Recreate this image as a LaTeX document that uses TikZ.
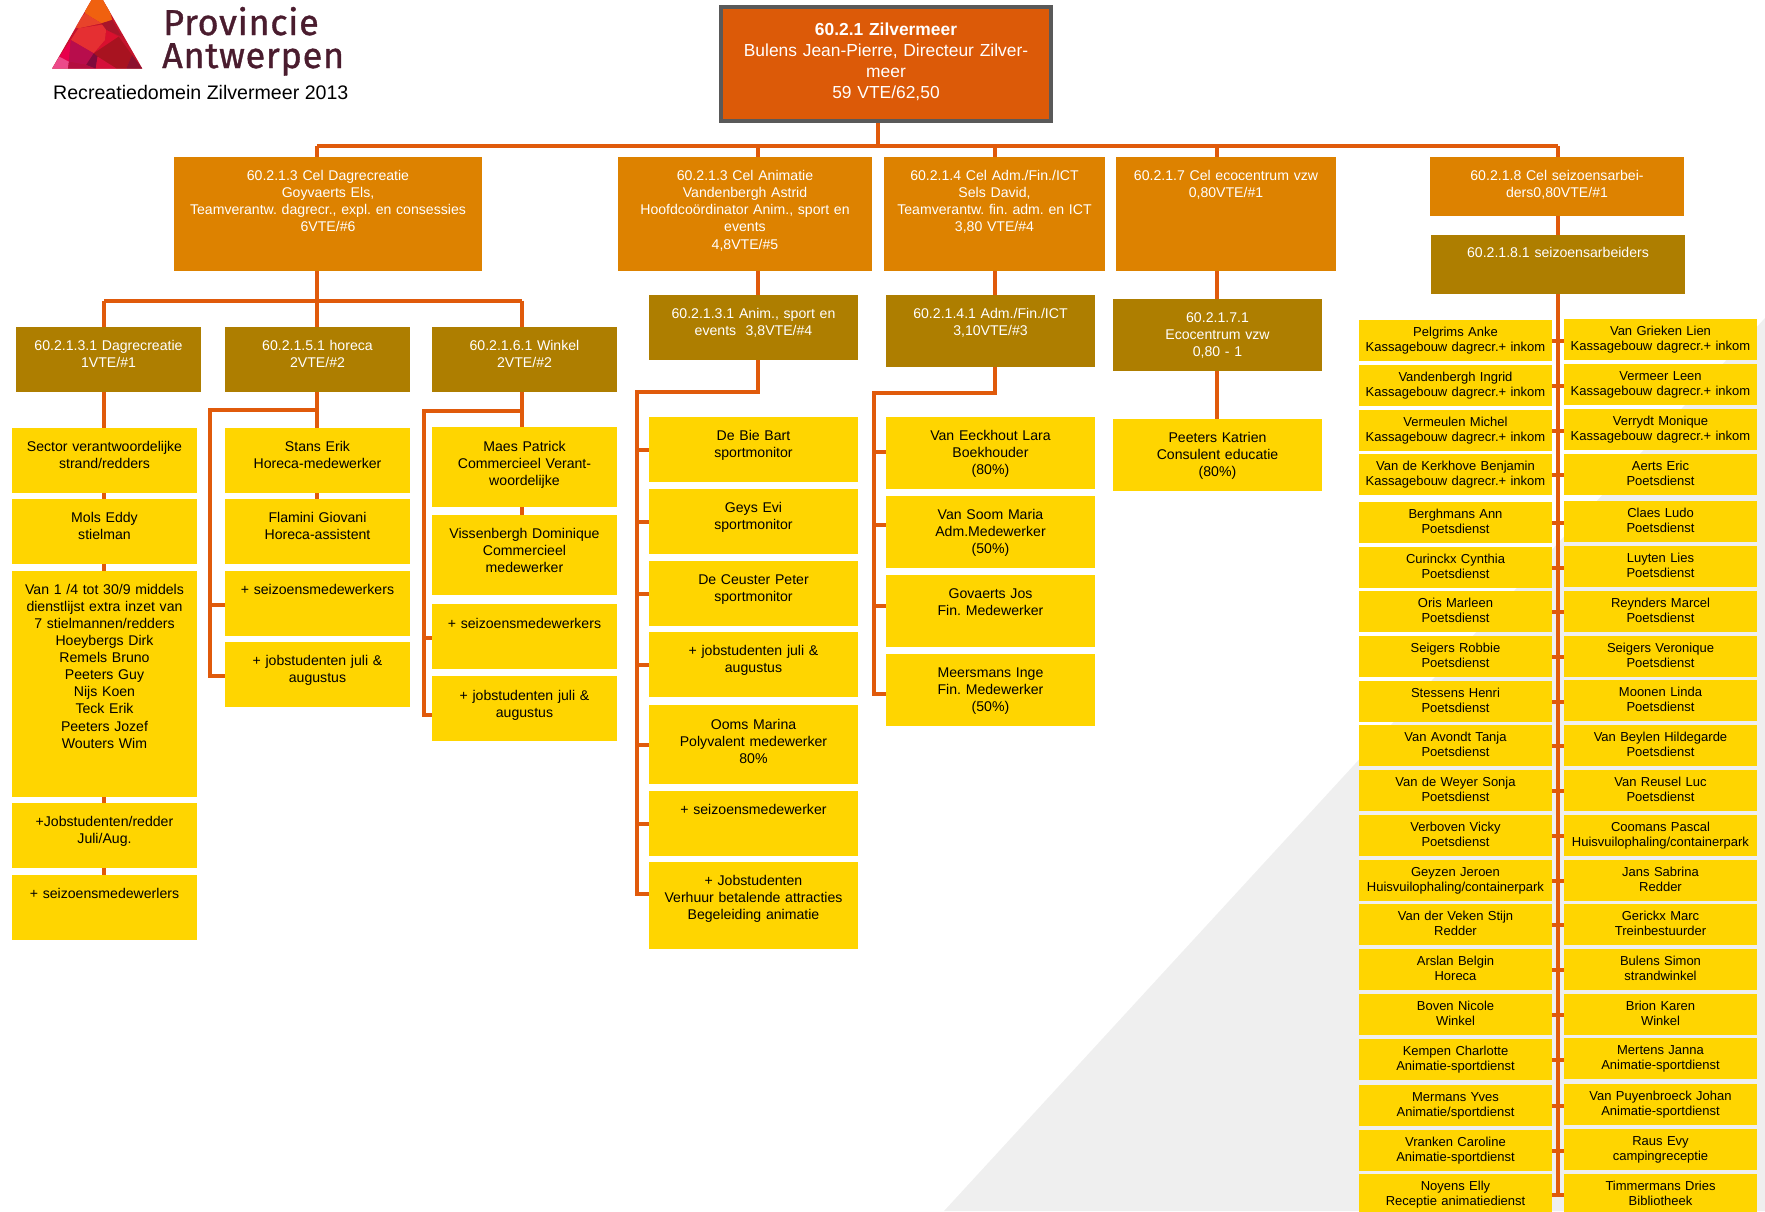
\documentclass[tikz,border=0pt]{standalone}
\usepackage{fontspec}
\setmainfont{Liberation Sans}
\newfontfamily\logofont{Fira Sans}[FakeBold=1,LetterSpace=2]
\usepackage{tikz}
\usetikzlibrary{backgrounds,positioning}
\frenchspacing

\definecolor{rootfill}{HTML}{DC5A08}
\definecolor{rootline}{HTML}{595959}
\definecolor{celfill}{HTML}{DD8200}
\definecolor{subfill}{HTML}{AE7E00}
\definecolor{staffill}{HTML}{FFD500}
\definecolor{linkcol}{HTML}{E05A0B}
\definecolor{logotext}{HTML}{4A1C2E}
\definecolor{wedge}{HTML}{EFEFEF}

\tikzset{Frame/.style n args={3}{text width=#1pt, text height=#3pt, text depth={(#2-#3)*1pt}}}

\begin{document}
\begin{tikzpicture}[x=1pt,y=-1pt]
	\tikzstyle{Box}		= [anchor=north, inner sep=0pt, align=center]
	\tikzstyle{Root}	= [Box, draw=rootline, line width=4.3pt, fill=rootfill, text=white, font=\fontsize{17.4}{21}\selectfont]
	\tikzstyle{Cel}		= [Box, fill=celfill, text=white, font=\fontsize{14.1}{17.2}\selectfont]
	\tikzstyle{Sub}		= [Box, fill=subfill, text=white, font=\fontsize{14.1}{17.2}\selectfont]
	\tikzstyle{Staff}	= [Box, fill=staffill, font=\fontsize{14.1}{17.1}\selectfont, Frame={185}{65}{23}]
	\tikzstyle{Anim}	= [Staff, Frame={209}{65}{23}]
	\tikzstyle{Adm}		= [Staff, Frame={209}{72}{23}]
	\tikzstyle{Season}	= [Box, fill=staffill, font=\fontsize{13}{15.7}\selectfont, Frame={193}{41}{16}]
	\tikzstyle{Link}	= [line width=4pt, linkcol]

	\useasboundingbox (0,0) rectangle (1765,1211);

	\begin{scope}[x=0.3827pt,y=-0.3333pt]
		\clip (136,206) -- (254,-30) -- (372,206) -- cycle;
		\fill [fill={rgb,255:red,196;green,20;blue,44}] (100,-40) rectangle (400,220);
		\fill [fill={rgb,255:red,240;green,97;blue,15}] (225,-5) -- (280,-5) -- (293,60) -- (265,70) -- (222,40) -- cycle;
		\fill [fill={rgb,255:red,232;green,67;blue,42}] (222,40) -- (265,70) -- (205,85) -- (190,80) -- cycle;
		\fill [fill={rgb,255:red,229;green,47;blue,50}] (205,85) -- (278,72) -- (275,120) -- (245,160) -- (185,120) -- cycle;
		\fill [fill={rgb,255:red,168;green,22;blue,42}] (265,70) -- (293,60) -- (318,110) -- (278,90) -- cycle;
		\fill [fill={rgb,255:red,217;green,16;blue,46}] (278,90) -- (310,110) -- (245,160) -- (275,120) -- cycle;
		\fill [fill={rgb,255:red,168;green,19;blue,32}] (310,110) -- (345,165) -- (330,206) -- (305,206) -- (250,170) -- (245,160) -- cycle;
		\fill [fill={rgb,255:red,140;green,18;blue,48}] (345,165) -- (372,206) -- (330,206) -- cycle;
		\fill [fill={rgb,255:red,232;green,0;blue,76}] (185,120) -- (180,185) -- (155,170) -- cycle;
		\fill [fill={rgb,255:red,184;green,13;blue,76}] (185,120) -- (245,160) -- (225,195) -- (180,185) -- cycle;
		\fill [fill={rgb,255:red,126;green,10;blue,60}] (245,160) -- (255,170) -- (250,206) -- (225,195) -- cycle;
		\fill [fill={rgb,255:red,213;green,16;blue,58}] (255,170) -- (305,206) -- (250,206) -- cycle;
		\fill [fill={rgb,255:red,236;green,74;blue,138}] (136,206) -- (155,170) -- (180,185) -- (178,206) -- cycle;
		\fill [fill={rgb,255:red,179;green,13;blue,64}] (180,185) -- (225,195) -- (250,206) -- (178,206) -- cycle;
	\end{scope}

	\node (prov) at (163,35) [anchor=base west, inner sep=0pt, text=logotext, font=\logofont\fontsize{36}{36}\selectfont] {Provincie};
	\node (antw) at (162,68) [anchor=base west, inner sep=0pt, text=logotext, font=\logofont\fontsize{36}{36}\selectfont] {Antwerpen};
	\node (titel) at (53,99) [anchor=base west, inner sep=0pt, font=\fontsize{19.6}{22}\selectfont] {Recreatiedomein Zilvermeer 2013};

	\node (root) at (886,5) [Root][Frame={330}{114}{28}] {\textbf{60.2.1 Zilvermeer}\\Bulens Jean-Pierre, Directeur Zilver-\\meer\\59 VTE/62,50};

	\node (cel1) at (328,157) [Cel][Frame={308}{114}{23}] {60.2.1.3 Cel Dagrecreatie\\Goyvaerts Els,\\Teamverantw. dagrecr., expl. en consessies\\6VTE/\#6};
	\node (cel2) at (745,157) [Cel][Frame={254}{114}{23}] {60.2.1.3 Cel Animatie\\Vandenbergh Astrid\\Hoofdcoördinator Anim., sport en\\events\\4,8VTE/\#5};
	\node (cel3) at (994.5,157) [Cel][Frame={221}{114}{23}] {60.2.1.4 Cel Adm./Fin./ICT\\Sels David,\\Teamverantw. fin. adm. en ICT\\3,80 VTE/\#4};
	\node (cel4) at (1226,157) [Cel][Frame={220}{114}{23}] {60.2.1.7 Cel ecocentrum vzw\\0,80VTE/\#1};
	\node (cel5) at (1557,157) [Cel][Frame={254}{59}{23}] {60.2.1.8 Cel seizoensarbei-\\ders0,80VTE/\#1};

	\node (dag) at (108.5,327) [Sub][Frame={185}{65}{23}] {60.2.1.3.1 Dagrecreatie\\1VTE/\#1};
	\node (hor) at (317.5,327) [Sub][Frame={185}{65}{23}] {60.2.1.5.1 horeca\\2VTE/\#2};
	\node (win) at (524.5,327) [Sub][Frame={185}{65}{23}] {60.2.1.6.1 Winkel\\2VTE/\#2};
	\node (ani) at (753.5,295) [Sub][Frame={209}{65}{23}] {60.2.1.3.1 Anim., sport en\\events\ \ 3,8VTE/\#4};
	\node (adm) at (990.5,295) [Sub][Frame={209}{72}{23}] {60.2.1.4.1 Adm./Fin./ICT\\3,10VTE/\#3};
	\node (eco) at (1217.5,299) [Sub][Frame={209}{72}{23}] {60.2.1.7.1\\Ecocentrum vzw\\0,80 - 1};
	\node (sei) at (1558,235) [Sub][Frame={254}{59}{22}] {60.2.1.8.1 seizoensarbeiders};

	\node (dag1) at (104.5,428) [Staff] {Sector verantwoordelijke\\strand/redders};
	\node (dag2) at (104.5,499) [Staff] {Mols Eddy\\stielman};
	\node (dag3) at (104.5,571) [Staff][Frame={185}{226}{23}] {Van 1 /4 tot 30/9 middels\\dienstlijst extra inzet van\\7 stielmannen/redders\\Hoeybergs Dirk\\Remels Bruno\\Peeters Guy\\Nijs Koen\\Teck Erik\\Peeters Jozef\\Wouters Wim};
	\node (dag4) at (104.5,803) [Staff] {+Jobstudenten/redder\\Juli/Aug.};
	\node (dag5) at (104.5,875) [Staff] {+ seizoensmedewerlers};

	\node (hor1) at (317.5,428) [Staff] {Stans Erik\\Horeca-medewerker};
	\node (hor2) at (317.5,499) [Staff] {Flamini Giovani\\Horeca-assistent};
	\node (hor3) at (317.5,571) [Staff] {+ seizoensmedewerkers};
	\node (hor4) at (317.5,642) [Staff] {+ jobstudenten juli \&\\augustus};

	\node (win1) at (524.5,427) [Staff][Frame={185}{80}{24}] {Maes Patrick\\Commercieel Verant-\\woordelijke};
	\node (win2) at (524.5,515) [Staff][Frame={185}{80}{23}] {Vissenbergh Dominique\\Commercieel\\medewerker};
	\node (win3) at (524.5,604) [Staff][Frame={185}{65}{24}] {+ seizoensmedewerkers};
	\node (win4) at (524.5,676) [Staff][Frame={185}{65}{24}] {+ jobstudenten juli \&\\augustus};

	\node (ani1) at (753.5,417) [Anim] {De Bie Bart\\sportmonitor};
	\node (ani2) at (753.5,489) [Anim] {Geys Evi\\sportmonitor};
	\node (ani3) at (753.5,561) [Anim] {De Ceuster Peter\\sportmonitor};
	\node (ani4) at (753.5,632) [Anim] {+ jobstudenten juli \&\\augustus};
	\node (ani5) at (753.5,705) [Anim][Frame={209}{79}{24}] {Ooms Marina\\Polyvalent medewerker\\80\%};
	\node (ani6) at (753.5,791) [Anim] {+ seizoensmedewerker};
	\node (ani7) at (753.5,862) [Anim][Frame={209}{87}{23}] {+ Jobstudenten\\Verhuur betalende attracties\\Begeleiding animatie};

	\node (adm1) at (990.5,417) [Adm] {Van Eeckhout Lara\\Boekhouder\\(80\%)};
	\node (adm2) at (990.5,496) [Adm] {Van Soom Maria\\Adm.Medewerker\\(50\%)};
	\node (adm3) at (990.5,575) [Adm] {Govaerts Jos\\Fin. Medewerker};
	\node (adm4) at (990.5,654) [Adm] {Meersmans Inge\\Fin. Medewerker\\(50\%)};

	\node (eco1) at (1217.5,419) [Adm] {Peeters Katrien\\Consulent educatie\\(80\%)};

	\node (l1) at (1455.5,320) [Season] {Pelgrims Anke\\Kassagebouw dagrecr.+ inkom};
	\node (l2) at (1455.5,365) [Season] {Vandenbergh Ingrid\\Kassagebouw dagrecr.+ inkom};
	\node (l3) at (1455.5,410) [Season] {Vermeulen Michel\\Kassagebouw dagrecr.+ inkom};
	\node (l4) at (1455.5,454) [Season] {Van de Kerkhove Benjamin\\Kassagebouw dagrecr.+ inkom};
	\node (l5) at (1455.5,502) [Season] {Berghmans Ann\\Poetsdienst};
	\node (l6) at (1455.5,547) [Season] {Curinckx Cynthia\\Poetsdienst};
	\node (l7) at (1455.5,591) [Season] {Oris Marleen\\Poetsdienst};
	\node (l8) at (1455.5,636) [Season] {Seigers Robbie\\Poetsdienst};
	\node (l9) at (1455.5,681) [Season] {Stessens Henri\\Poetsdienst};
	\node (l10) at (1455.5,725) [Season] {Van Avondt Tanja\\Poetsdienst};
	\node (l11) at (1455.5,770) [Season] {Van de Weyer Sonja\\Poetsdienst};
	\node (l12) at (1455.5,815) [Season] {Verboven Vicky\\Poetsdienst};
	\node (l13) at (1455.5,860) [Season] {Geyzen Jeroen\\Huisvuilophaling/containerpark};
	\node (l14) at (1455.5,904) [Season] {Van der Veken Stijn\\Redder};
	\node (l15) at (1455.5,949) [Season] {Arslan Belgin\\Horeca};
	\node (l16) at (1455.5,994) [Season] {Boven Nicole\\Winkel};
	\node (l17) at (1455.5,1039) [Season] {Kempen Charlotte\\Animatie-sportdienst};
	\node (l18) at (1455.5,1085) [Season] {Mermans Yves\\Animatie/sportdienst};
	\node (l19) at (1455.5,1130) [Season] {Vranken Caroline\\Animatie-sportdienst};
	\node (l20) at (1455.5,1174) [Season] {Noyens Elly\\Receptie animatiedienst};

	\node (r1) at (1660.5,319) [Season] {Van Grieken Lien\\Kassagebouw dagrecr.+ inkom};
	\node (r2) at (1660.5,364) [Season] {Vermeer Leen\\Kassagebouw dagrecr.+ inkom};
	\node (r3) at (1660.5,409) [Season] {Verrydt Monique\\Kassagebouw dagrecr.+ inkom};
	\node (r4) at (1660.5,454) [Season] {Aerts Eric\\Poetsdienst};
	\node (r5) at (1660.5,501) [Season] {Claes Ludo\\Poetsdienst};
	\node (r6) at (1660.5,546) [Season] {Luyten Lies\\Poetsdienst};
	\node (r7) at (1660.5,591) [Season] {Reynders Marcel\\Poetsdienst};
	\node (r8) at (1660.5,636) [Season] {Seigers Veronique\\Poetsdienst};
	\node (r9) at (1660.5,680) [Season] {Moonen Linda\\Poetsdienst};
	\node (r10) at (1660.5,725) [Season] {Van Beylen Hildegarde\\Poetsdienst};
	\node (r11) at (1660.5,770) [Season] {Van Reusel Luc\\Poetsdienst};
	\node (r12) at (1660.5,815) [Season] {Coomans Pascal\\Huisvuilophaling/containerpark};
	\node (r13) at (1660.5,860) [Season] {Jans Sabrina\\Redder};
	\node (r14) at (1660.5,904) [Season] {Gerickx Marc\\Treinbestuurder};
	\node (r15) at (1660.5,949) [Season] {Bulens Simon\\strandwinkel};
	\node (r16) at (1660.5,994) [Season] {Brion Karen\\Winkel};
	\node (r17) at (1660.5,1038) [Season] {Mertens Janna\\Animatie-sportdienst};
	\node (r18) at (1660.5,1084) [Season] {Van Puyenbroeck Johan\\Animatie-sportdienst};
	\node (r19) at (1660.5,1129) [Season] {Raus Evy\\campingreceptie};
	\node (r20) at (1660.5,1174) [Season] {Timmermans Dries\\Bibliotheek};

	\coordinate (busroot) at (878,146);
	\coordinate (busdag) at (317,146);
	\coordinate (busani) at (757.7,146);
	\coordinate (busadm) at (994.7,146);
	\coordinate (buseco) at (1216.7,146);
	\coordinate (bussei) at (1558,146);
	\coordinate (forkdag) at (104,300.7);
	\coordinate (forkwin) at (522,300.7);
	\coordinate (railhor) at (210,410);
	\coordinate (railwin) at (424,411);
	\coordinate (railani) at (637,391.7);
	\coordinate (railadm) at (873.7,393);

	\begin{scope}[on background layer]
		\fill [wedge] (944,1211) -- (1765,318) -- (1765,1211) -- cycle;

		\draw [Link] (busdag) -- (bussei);
		\draw [Link] (busroot) -- (busroot |- root.south);
		\draw [Link] (busdag) -- (busdag |- hor2.north);
		\draw [Link] (busani) -- (busani |- railani) -- (railani) -- ([yshift=12pt]railani |- ani7.west) -- ([yshift=12pt]ani7.west);
		\draw [Link] (busadm) -- (busadm |- railadm) -- (railadm) -- ([yshift=-4pt]railadm |- adm4.west) -- ([yshift=-4pt]adm4.west);
		\draw [Link] (buseco) -- (buseco |- eco1.north);
		\draw [Link] (bussei) -- (bussei |- l20.east);

		\draw [Link] (forkdag) -- (forkwin);
		\draw [Link] (forkdag) -- (forkdag |- dag5.north);
		\draw [Link] (forkwin) -- (forkwin |- win2.north);

		\draw [Link] (busdag |- railhor) -- (railhor) -- ([yshift=-1.5pt]railhor |- hor4.west) -- ([yshift=-1.5pt]hor4.west);
		\draw [Link] ([yshift=-1.5pt]railhor |- hor3.west) -- ([yshift=-1.5pt]hor3.west);
		\draw [Link] (forkwin |- railwin) -- (railwin) -- ([yshift=-6.5pt]railwin |- win4.west) -- ([yshift=-6.5pt]win4.west);
		\draw [Link] ([yshift=-1.5pt]railwin |- win3.west) -- ([yshift=-1.5pt]win3.west);

		\foreach \n in {1,...,6}
			\draw [Link] (railani |- ani\n.west) -- (ani\n.west);
		\draw [Link] ([yshift=1pt]railadm |- adm1.west) -- ([yshift=1pt]adm1.west);
		\draw [Link] ([yshift=7pt]railadm |- adm2.west) -- ([yshift=7pt]adm2.west);
		\draw [Link] ([yshift=5pt]railadm |- adm3.west) -- ([yshift=5pt]adm3.west);

		\foreach \n in {1,...,20}
			\draw [Link] (l\n.east) -- (l\n.east -| r\n.west);
	\end{scope}
\end{tikzpicture}
\end{document}
